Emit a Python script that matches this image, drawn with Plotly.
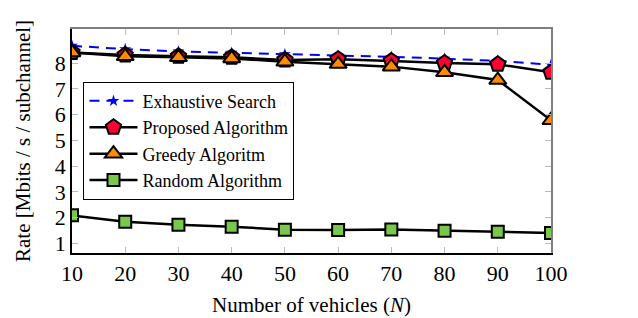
import plotly.graph_objects as go

vehicles = [10, 20, 30, 40, 50, 60, 70, 80, 90, 100]
exhaustive = [8.67, 8.54, 8.45, 8.40, 8.34, 8.28, 8.24, 8.17, 8.08, 7.93]
proposed = [8.41, 8.31, 8.26, 8.22, 8.12, 8.15, 8.08, 8.00, 7.95, 7.64]
greedy = [8.41, 8.26, 8.22, 8.18, 8.05, 7.96, 7.86, 7.64, 7.34, 5.78]
random_alg = [2.09, 1.84, 1.73, 1.65, 1.53, 1.52, 1.54, 1.49, 1.45, 1.41]
yticks = [1, 2, 3, 4, 5, 6, 7, 8]

FONT = "Liberation Serif"

fig = go.Figure()
fig.add_trace(go.Scatter(
    x=vehicles, y=exhaustive, name="Exhaustive Search", mode="lines+markers",
    line=dict(color="#0000FF", width=2, dash="10px,7px"),
    marker=dict(symbol="star", size=9, color="#0000FF", line=dict(width=0)),
))
fig.add_trace(go.Scatter(
    x=vehicles, y=proposed, name="Proposed Algorithm", mode="lines+markers",
    line=dict(color="black", width=2.5),
    marker=dict(symbol="pentagon", size=16, color="#FF0033", line=dict(color="black", width=2)),
))
fig.add_trace(go.Scatter(
    x=vehicles, y=greedy, name="Greedy Algoritm", mode="lines+markers",
    line=dict(color="black", width=2.5),
    marker=dict(symbol="triangle-up", size=15, color="#FF8C00", line=dict(color="black", width=2)),
))
fig.add_trace(go.Scatter(
    x=vehicles, y=random_alg, name="Random Algorithm", mode="lines+markers",
    line=dict(color="black", width=2.5),
    marker=dict(symbol="square", size=12, color="#78C84B", line=dict(color="black", width=2)),
))
# helper trace for the mirrored (top/right) axes
fig.add_trace(go.Scatter(
    x=vehicles, y=random_alg, xaxis="x2", yaxis="y2", mode="lines",
    line=dict(width=0), opacity=0, showlegend=False, hoverinfo="skip",
))

yr = [0.63, 9.32]
xr = [10, 100]

fig.update_layout(
    width=638, height=318,
    margin=dict(l=72, r=87, t=29, b=65, autoexpand=False),
    paper_bgcolor="white", plot_bgcolor="white",
    font=dict(family=FONT, color="black", size=20),
    xaxis=dict(
        range=xr, tickvals=vehicles, ticks="inside", ticklen=6, tickcolor="#BBBBBB",
        tickwidth=1.2, showline=True, linecolor="black", linewidth=1.5,
        showgrid=False, zeroline=False, tickfont=dict(size=22), automargin=False,
        title=dict(text="Number of vehicles (<i>N</i>)", font=dict(size=21), standoff=12),
    ),
    yaxis=dict(
        range=yr, tickvals=yticks, ticks="inside", ticklen=6, tickcolor="#BBBBBB",
        tickwidth=1.2, showline=True, linecolor="black", linewidth=1.5,
        showgrid=False, zeroline=False, tickfont=dict(size=22), automargin=False,
        title=dict(text="Rate [Mbits / s / subchannel]", font=dict(size=21), standoff=18),
    ),
    xaxis2=dict(
        range=xr, tickvals=vehicles, ticks="inside", ticklen=6, tickcolor="#BBBBBB",
        tickwidth=1.2, showline=True, linecolor="#7F7F7F", linewidth=1.5,
        showticklabels=False, showgrid=False, zeroline=False, automargin=False,
        overlaying="x", side="top", anchor="y2",
    ),
    yaxis2=dict(
        range=yr, tickvals=yticks, ticks="inside", ticklen=6, tickcolor="#BBBBBB",
        tickwidth=1.2, showline=True, linecolor="#7F7F7F", linewidth=1.5,
        showticklabels=False, showgrid=False, zeroline=False, automargin=False,
        overlaying="y", side="right", anchor="x2",
    ),
    legend=dict(
        x=0.024, y=0.765, xanchor="left", yanchor="top",
        bgcolor="white", bordercolor="black", borderwidth=1,
        font=dict(family=FONT, size=18), tracegroupgap=0,
        itemwidth=48,
    ),
    showlegend=True,
)

fig.write_html(
    "out.html",
    config={"displayModeBar": False},
    post_script="document.body.style.margin='0';document.body.style.padding='0';",
)
